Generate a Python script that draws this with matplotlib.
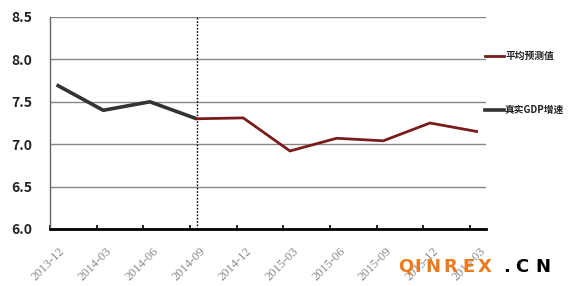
import numpy as np
import matplotlib.pyplot as plt
import matplotlib.transforms as mtrans

# Quarterly labels and series
quarters = ["2013-12", "2014-03", "2014-06", "2014-09", "2014-12",
            "2015-03", "2015-06", "2015-09", "2015-12", "2016-03"]
gdp_actual = [7.7, 7.4, 7.5, 7.3]
gdp_forecast = [7.3, 7.31, 6.92, 7.07, 7.04, 7.25, 7.15]
y_ticks = [6.0, 6.5, 7.0, 7.5, 8.0, 8.5]

plt.rcParams["font.family"] = ["Noto Sans CJK SC", "DejaVu Sans"]

fig = plt.figure(figsize=(5.68, 2.86), dpi=100)
ax = fig.add_axes([50 / 568, 1 - 229 / 286, 436 / 568, 212 / 286])

off = 0.14
x_all = np.arange(len(quarters))
x_act = x_all[:len(gdp_actual)] + off
x_fc = x_all[len(gdp_actual) - 1:] + off

# grid lines
for v in y_ticks[1:]:
    ax.axhline(v, color="#888888", lw=1.0, zorder=1)

ax.plot(x_act, gdp_actual, color="#333333", lw=2.6, zorder=3, solid_capstyle="butt")
ax.plot(x_fc, gdp_forecast, color="#7a1c1c", lw=2.0, zorder=3)
ax.axvline(x_act[-1], color="black", lw=1.0, ls=(0, (1.2, 1.2)), zorder=2)

ax.set_xlim(0, 9.34)
ax.set_ylim(6.0, 8.5)
ax.set_yticks(y_ticks)
ax.set_yticklabels(["%.1f" % v for v in y_ticks], fontsize=10, fontweight="bold",
                   color="#222222")
ax.set_xticks(x_all)
ax.set_xticklabels(quarters, rotation=45, ha="right", rotation_mode="anchor",
                   fontsize=9, color="#8a8a8a", family="Liberation Serif")
ax.tick_params(axis="y", length=0, pad=13)
ax.tick_params(axis="x", direction="in", length=3, width=1.2, color="black", pad=8)

# nudge the rotated labels right/down like the original
shift = mtrans.ScaledTranslation(9 / 100, -5 / 100, fig.dpi_scale_trans)
for lab in ax.get_xticklabels():
    lab.set_transform(lab.get_transform() + shift)

for s in ["top", "right"]:
    ax.spines[s].set_visible(False)
ax.spines["left"].set_color("#666666")
ax.spines["left"].set_linewidth(1.0)
ax.spines["bottom"].set_color("black")
ax.spines["bottom"].set_linewidth(2.0)

# legend drawn at right
fig.add_artist(plt.Line2D([485 / 568, 504 / 568], [1 - 56 / 286] * 2,
                          color="#7a1c1c", lw=2.0))
fig.text(505 / 568, 1 - 56 / 286, "平均预测值", fontsize=7, fontweight="bold",
         va="center", ha="left", color="#222222")
fig.add_artist(plt.Line2D([485 / 568, 504 / 568], [1 - 110 / 286] * 2,
                          color="#333333", lw=2.6))
fig.text(505 / 568, 1 - 110 / 286, "真实GDP增速", fontsize=7, fontweight="bold",
         va="center", ha="left", color="#222222")

# watermark
letters = "QINREX.CN"
xs = [398, 414, 425, 443, 462, 478, 503, 515, 535]
for i, (ch, xp) in enumerate(zip(letters, xs)):
    col = "#f07a1a" if i < 6 else "black"
    fig.text(xp / 568, 1 - 272 / 286, ch, fontsize=13, fontweight="bold",
             color=col, family="DejaVu Sans", ha="left", va="baseline")

plt.savefig("out.png", dpi=100)
